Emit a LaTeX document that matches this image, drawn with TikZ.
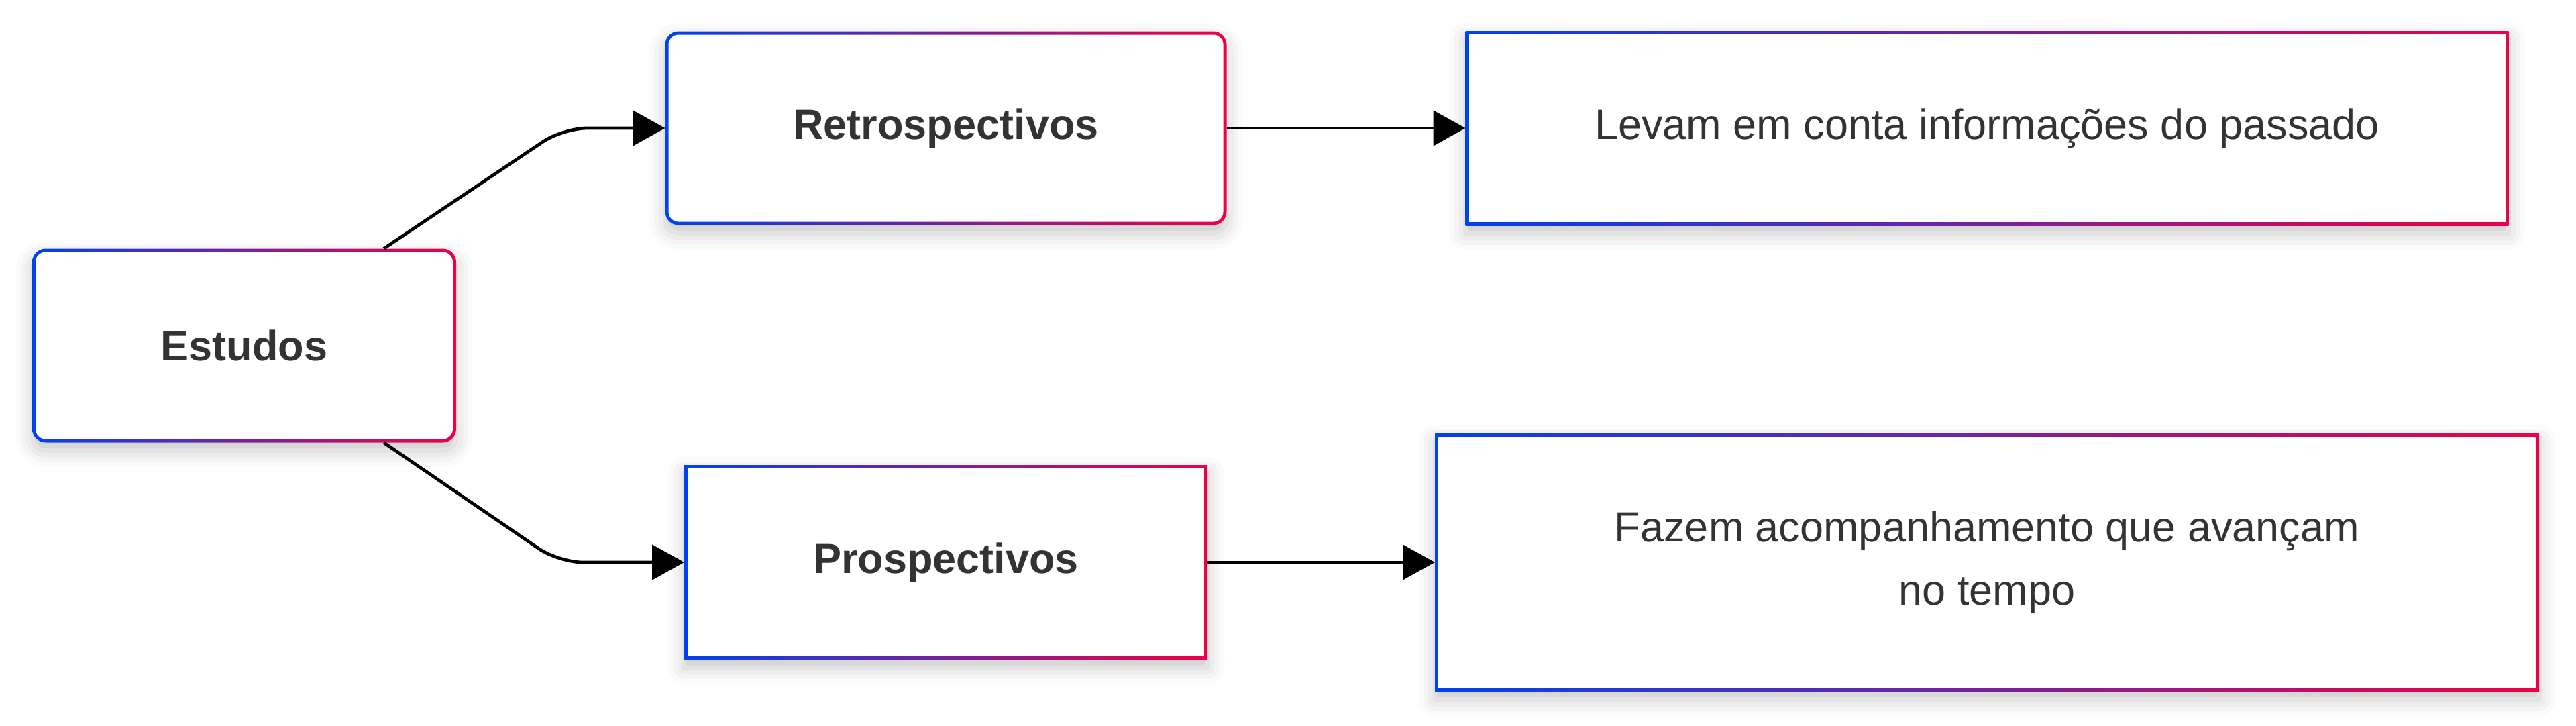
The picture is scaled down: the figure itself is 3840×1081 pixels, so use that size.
\documentclass[tikz,border=0pt]{standalone}
\usepackage{fontspec}
\setmainfont{Liberation Sans}
\usetikzlibrary{arrows.meta,shadows.blur}

\definecolor{gradblue}{RGB}{0,66,240}
\definecolor{gradred}{RGB}{240,0,68}
\definecolor{txtgray}{RGB}{51,51,51}

\tikzset{
  gradbox/.style={rectangle, inner sep=0pt, outer sep=0pt, fill=white, text=txtgray,
    font=\fontsize{15.75}{23.5}\selectfont, align=center,
    blur shadow={shadow xshift=0pt, shadow yshift=-3pt, shadow blur radius=6pt, shadow opacity=22},
    path picture={
      \shade[left color=gradblue, right color=gradred] (path picture bounding box.south west) rectangle (path picture bounding box.north east);
      \fill[white, rounded corners=#1] ([shift={(1.25pt,1.25pt)}]path picture bounding box.south west) rectangle ([shift={(-1.25pt,-1.25pt)}]path picture bounding box.north east);
    }},
  roundbox/.style={gradbox=3.75pt, rounded corners=5pt},
  sqbox/.style={gradbox=0pt, sharp corners},
  conn/.style={line width=1.2pt, rounded corners=9pt, -{Triangle[length=12pt,width=13pt]}}
}

\begin{document}
\begin{tikzpicture}[x=0.25pt,y=-0.25pt]
  \useasboundingbox (0,0) rectangle (3840,1081);

  \node[roundbox, minimum width=158pt, minimum height=72.25pt, font=\fontsize{15.75}{23.5}\selectfont\bfseries] (estu) at (364,515) {Estudos};
  \node[roundbox, minimum width=209.25pt, minimum height=72.25pt, font=\fontsize{15.75}{23.5}\selectfont\bfseries] (retro) at (1410,191) {Retrospectivos};
  \node[sqbox, minimum width=195pt, minimum height=72.5pt, font=\fontsize{15.75}{23.5}\selectfont\bfseries] (prosp) at (1410,838) {Prospectivos};

  \node[sqbox, minimum width=388.75pt, minimum height=72.5pt] (levam) at (2962,191) {Levam em conta informações do passado};
  \node[sqbox, minimum width=411.5pt, minimum height=96.25pt] (fazem) at (2962,838) {Fazem acompanhamento que avançam\\no tempo};

  % ligações
  \draw[conn] ([xshift=52pt]estu.north) -- ([xshift=-38pt]retro.west) -- (retro.west);
  \draw[conn] ([xshift=52pt]estu.south) -- ([xshift=-46.75pt]prosp.west) -- (prosp.west);
  \draw[conn] (retro.east) -- (levam.west);
  \draw[conn] (prosp.east) -- (fazem.west);
\end{tikzpicture}
\end{document}
